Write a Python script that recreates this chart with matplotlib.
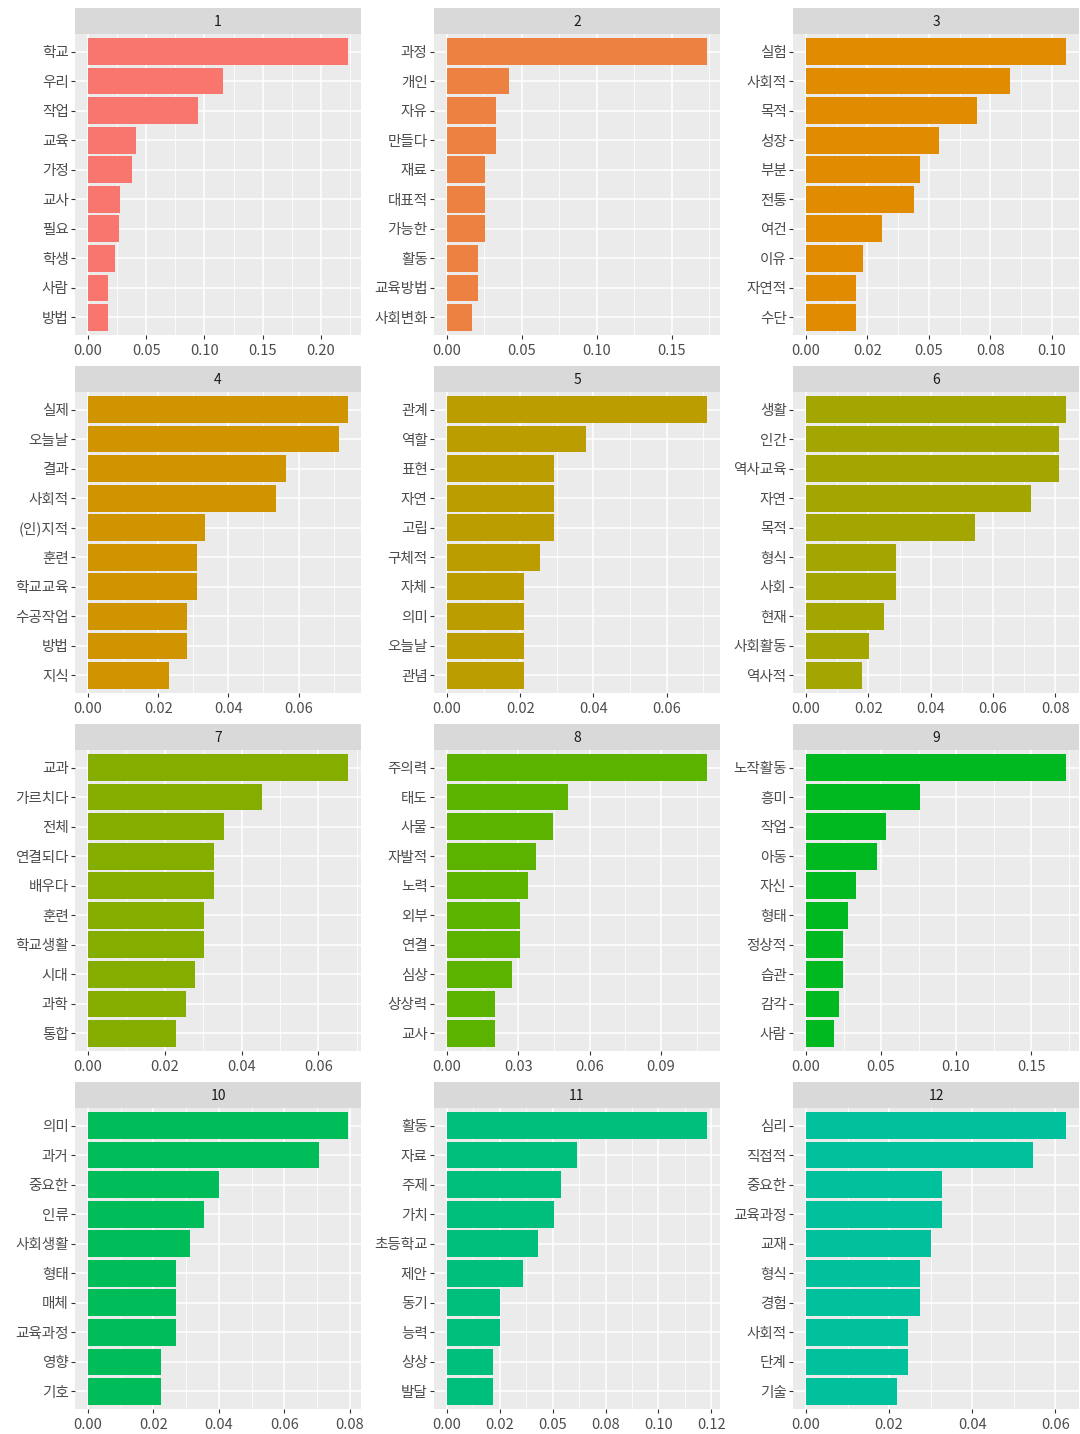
import numpy as np
import matplotlib
matplotlib.use('Agg')
import matplotlib.pyplot as plt
from matplotlib.ticker import MultipleLocator, FuncFormatter
from decimal import Decimal, ROUND_HALF_EVEN

plt.rcParams['font.family'] = ['Noto Sans CJK KR', 'DejaVu Sans']

# 토픽별 상위 10개 단어와 beta 값
topics = [str(i) for i in range(1, 13)]

terms = [
    ['학교', '우리', '작업', '교육', '가정', '교사', '필요', '학생', '사람', '방법'],
    ['과정', '개인', '자유', '만들다', '재료', '대표적', '가능한', '활동', '교육방법', '사회변화'],
    ['실험', '사회적', '목적', '성장', '부분', '전통', '여건', '이유', '자연적', '수단'],
    ['실제', '오늘날', '결과', '사회적', '(인)지적', '훈련', '학교교육', '수공작업', '방법', '지식'],
    ['관계', '역할', '표현', '자연', '고립', '구체적', '자체', '의미', '오늘날', '관념'],
    ['생활', '인간', '역사교육', '자연', '목적', '형식', '사회', '현재', '사회활동', '역사적'],
    ['교과', '가르치다', '전체', '연결되다', '배우다', '훈련', '학교생활', '시대', '과학', '통합'],
    ['주의력', '태도', '사물', '자발적', '노력', '외부', '연결', '심상', '상상력', '교사'],
    ['노작활동', '흥미', '작업', '아동', '자신', '형태', '정상적', '습관', '감각', '사람'],
    ['의미', '과거', '중요한', '인류', '사회생활', '형태', '매체', '교육과정', '영향', '기호'],
    ['활동', '자료', '주제', '가치', '초등학교', '제안', '동기', '능력', '상상', '발달'],
    ['심리', '직접적', '중요한', '교육과정', '교재', '형식', '경험', '사회적', '단계', '기술'],
]

beta = [
    [0.2233, 0.1158, 0.0942, 0.0413, 0.0376, 0.0273, 0.0262, 0.0230, 0.0171, 0.0171],
    [0.1737, 0.0412, 0.0330, 0.0330, 0.0252, 0.0252, 0.0252, 0.0204, 0.0204, 0.0164],
    [0.1057, 0.0828, 0.0696, 0.0540, 0.0462, 0.0438, 0.0311, 0.0232, 0.0203, 0.0203],
    [0.0741, 0.0716, 0.0563, 0.0536, 0.0333, 0.0310, 0.0310, 0.0282, 0.0282, 0.0231],
    [0.0710, 0.0379, 0.0293, 0.0293, 0.0293, 0.0254, 0.0211, 0.0211, 0.0211, 0.0211],
    [0.0834, 0.0811, 0.0811, 0.0723, 0.0542, 0.0290, 0.0290, 0.0249, 0.0202, 0.0180],
    [0.0677, 0.0453, 0.0354, 0.0328, 0.0328, 0.0303, 0.0303, 0.0279, 0.0254, 0.0228],
    [0.1094, 0.0511, 0.0444, 0.0375, 0.0340, 0.0309, 0.0309, 0.0274, 0.0203, 0.0203],
    [0.1733, 0.0760, 0.0532, 0.0470, 0.0332, 0.0277, 0.0244, 0.0244, 0.0219, 0.0188],
    [0.0794, 0.0705, 0.0399, 0.0355, 0.0312, 0.0268, 0.0268, 0.0268, 0.0224, 0.0224],
    [0.1230, 0.0614, 0.0540, 0.0506, 0.0432, 0.0359, 0.0252, 0.0252, 0.0218, 0.0218],
    [0.0626, 0.0546, 0.0328, 0.0328, 0.0300, 0.0274, 0.0274, 0.0245, 0.0245, 0.0219],
]

# x축 눈금 간격
tick_steps = [0.05, 0.05, 0.025, 0.02, 0.02, 0.02, 0.02, 0.03, 0.05, 0.02, 0.025, 0.02]


def hcl_hex(h, c=100, l=65):
    # ggplot 기본 색상 (polar Luv -> sRGB)
    un, vn = 0.1978398, 0.4683363
    hr = np.deg2rad(h)
    U, V = c * np.cos(hr), c * np.sin(hr)
    Y = 100 * ((l + 16) / 116) ** 3 if l > 8 else 100 * l / 903.3
    u = U / (13 * l) + un
    v = V / (13 * l) + vn
    X = 9.0 * Y * u / (4 * v)
    Z = -X / 3 - 5 * Y + 3 * Y / v
    X, Y, Z = X / 100, Y / 100, Z / 100
    rgb = [3.240479 * X - 1.537150 * Y - 0.498535 * Z,
           -0.969256 * X + 1.875992 * Y + 0.041556 * Z,
           0.055648 * X - 0.204043 * Y + 1.057311 * Z]
    out = []
    for t in rgb:
        t = 12.92 * t if t <= 0.0031308 else 1.055 * t ** (1 / 2.4) - 0.055
        out.append(min(max(t, 0), 1))
    return tuple(out)


n_levels = 25
colors = [hcl_hex(15 + 360 * i / n_levels) for i in range(len(topics))]


def r_label(x, pos):
    # R처럼 반올림 (0.025 -> 0.02, 0.075 -> 0.08)
    x = round(float(x), 10)
    if abs(x) < 1e-12:
        return '0.00'
    d = Decimal(str(x)).quantize(Decimal('0.01'), rounding=ROUND_HALF_EVEN)
    return f'{d:.2f}'


W, H = 1080, 1434
fig = plt.figure(figsize=(W / 100, H / 100), dpi=100)

col_left = [75, 434, 793]
row_top = [8, 366, 724, 1082]
pw, strip_h, ph = 286, 26, 301

for k, topic in enumerate(topics):
    r, c = divmod(k, 3)
    x0 = col_left[c]
    y0 = row_top[r]

    # 스트립
    sax = fig.add_axes([x0 / W, 1 - (y0 + strip_h) / H, pw / W, strip_h / H])
    sax.set_facecolor('#D9D9D9')
    sax.set_xticks([])
    sax.set_yticks([])
    for s in sax.spines.values():
        s.set_visible(False)
    sax.text(0.5, 0.45, topic, ha='center', va='center', fontsize=10, color='#1A1A1A')

    # 막대 그래프
    ax = fig.add_axes([x0 / W, 1 - (y0 + strip_h + ph) / H, pw / W, ph / H])
    ax.set_facecolor('#EBEBEB')
    vals = beta[k]
    ypos = np.arange(len(vals), 0, -1)
    ax.barh(ypos, vals, height=0.9, color=colors[k], zorder=3)
    ax.set_yticks(ypos)
    ax.set_yticklabels(terms[k])
    ax.set_ylim(0.4, len(vals) + 0.6)
    vmax = max(vals)
    ax.set_xlim(-0.05 * vmax, 1.05 * vmax)
    step = tick_steps[k]
    ax.xaxis.set_major_locator(MultipleLocator(step))
    ax.xaxis.set_minor_locator(MultipleLocator(step / 2))
    ax.xaxis.set_major_formatter(FuncFormatter(r_label))
    ax.grid(which='major', color='white', linewidth=1.1, zorder=1)
    ax.grid(which='minor', axis='x', color='white', linewidth=0.55, zorder=1)
    ax.set_axisbelow(True)
    for s in ax.spines.values():
        s.set_visible(False)
    ax.tick_params(which='major', length=2.6, width=0.8, color='#333333',
                   labelsize=10.5, labelcolor='#4D4D4D', pad=2)
    ax.tick_params(axis='x', which='major', pad=4)
    ax.tick_params(which='minor', length=0)

fig.savefig('out.png', dpi=100, facecolor='white')
